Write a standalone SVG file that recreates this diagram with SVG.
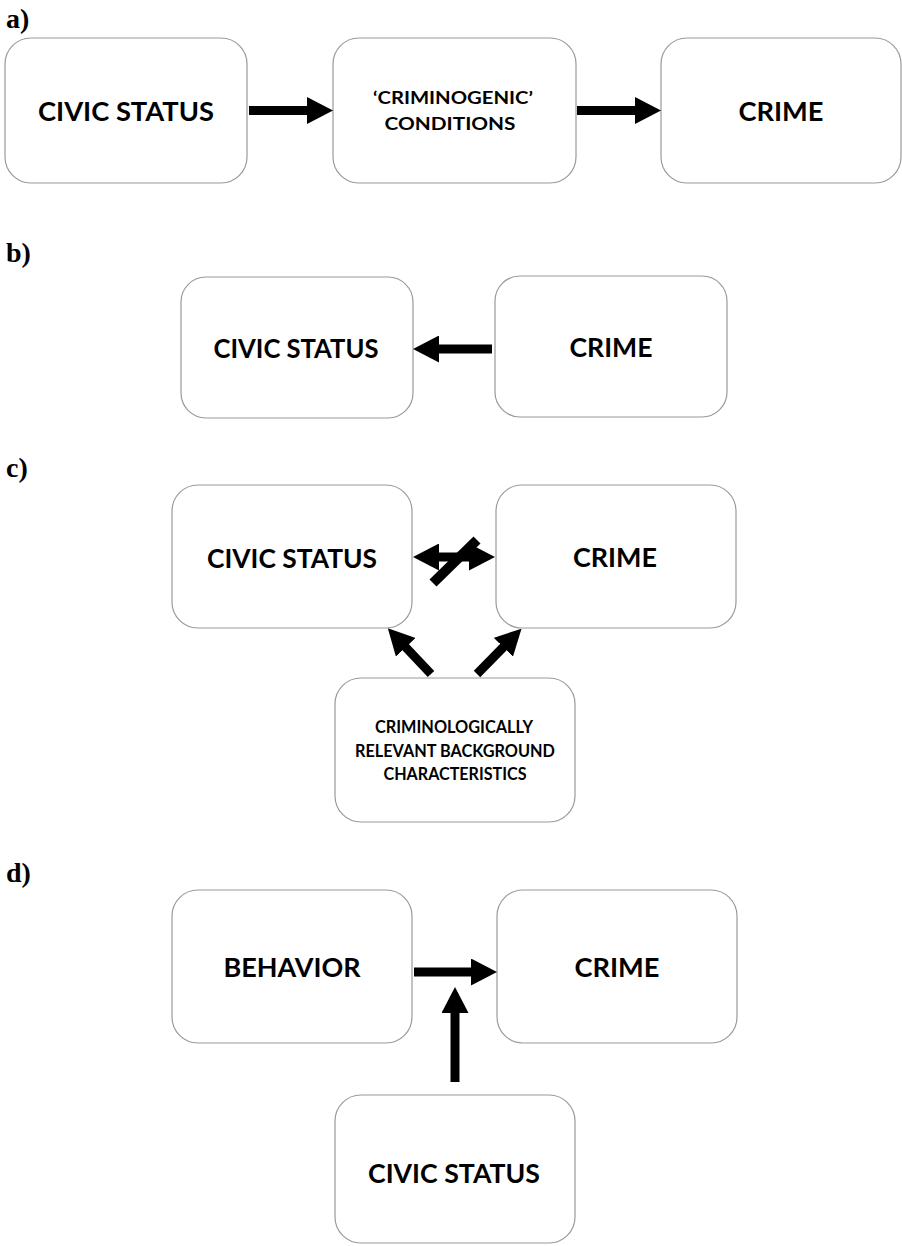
<svg xmlns="http://www.w3.org/2000/svg" width="902" height="1246" viewBox="0 0 902 1246">
  <style>
    .box { fill: #ffffff; stroke: #9a9a9a; stroke-width: 1.2; }
    .lbl { font-family: "Liberation Serif", "Times New Roman", serif; font-weight: bold; font-size: 28px; fill: #000; }
    .big { font-family: Lato, "Open Sans", sans-serif; font-weight: bold; font-size: 26.5px; fill: #000; text-anchor: middle; }
    .small { font-family: Lato, "Open Sans", sans-serif; font-weight: bold; font-size: 16.5px; fill: #000; text-anchor: middle; }
    .shaft { stroke: #000; stroke-width: 9; fill: none; }
    .slash { stroke: #000; stroke-width: 10; fill: none; }
  </style>
  <defs>
    <marker id="head" markerUnits="userSpaceOnUse" markerWidth="26" markerHeight="27" refX="1" refY="13.5" orient="auto-start-reverse" viewBox="0 0 26 27">
      <path d="M0,0 L26,13.5 L0,27 Z" fill="#000"/>
    </marker>
  </defs>
  <rect width="902" height="1246" fill="#ffffff"/>

  <g id="labels">
    <text class="lbl" x="6" y="28">a)</text>
    <text class="lbl" x="6" y="262">b)</text>
    <text class="lbl" x="6" y="477">c)</text>
    <text class="lbl" x="6" y="882">d)</text>
  </g>

  <!-- Panel a -->
  <g id="a-civic">
    <rect class="box" x="5" y="38" width="242" height="145" rx="26"/>
    <text class="big" x="126" y="121" textLength="176" lengthAdjust="spacingAndGlyphs">CIVIC STATUS</text>
  </g>
  <g id="a-conditions">
    <rect class="box" x="333" y="38" width="243" height="145" rx="26"/>
    <text class="small" x="453" y="104" textLength="160" lengthAdjust="spacingAndGlyphs">‘CRIMINOGENIC’</text>
    <text class="small" x="450" y="130" textLength="131" lengthAdjust="spacingAndGlyphs">CONDITIONS</text>
  </g>
  <g id="a-crime">
    <rect class="box" x="661" y="38" width="240" height="145" rx="26"/>
    <text class="big" x="781" y="121" textLength="85" lengthAdjust="spacingAndGlyphs">CRIME</text>
  </g>

  <!-- Panel b -->
  <g id="b-civic">
    <rect class="box" x="181" y="277" width="232" height="141" rx="25"/>
    <text class="big" x="296" y="358" textLength="165" lengthAdjust="spacingAndGlyphs">CIVIC STATUS</text>
  </g>
  <g id="b-crime">
    <rect class="box" x="495" y="276" width="232" height="141" rx="25"/>
    <text class="big" x="611" y="357" textLength="83" lengthAdjust="spacingAndGlyphs">CRIME</text>
  </g>

  <!-- Panel c -->
  <g id="c-civic">
    <rect class="box" x="172" y="485" width="240" height="143" rx="26"/>
    <text class="big" x="292" y="568" textLength="170" lengthAdjust="spacingAndGlyphs">CIVIC STATUS</text>
  </g>
  <g id="c-crime">
    <rect class="box" x="496" y="485" width="240" height="143" rx="26"/>
    <text class="big" x="615" y="567" textLength="84" lengthAdjust="spacingAndGlyphs">CRIME</text>
  </g>
  <g id="c-background">
    <rect class="box" x="335" y="678" width="240" height="144" rx="26"/>
    <text class="small" x="454" y="733" textLength="158" lengthAdjust="spacingAndGlyphs">CRIMINOLOGICALLY</text>
    <text class="small" x="455" y="757" textLength="200" lengthAdjust="spacingAndGlyphs">RELEVANT BACKGROUND</text>
    <text class="small" x="455" y="780" textLength="143" lengthAdjust="spacingAndGlyphs">CHARACTERISTICS</text>
  </g>

  <!-- Panel d -->
  <g id="d-behavior">
    <rect class="box" x="172" y="890" width="240" height="153" rx="26"/>
    <text class="big" x="292" y="977" textLength="137" lengthAdjust="spacingAndGlyphs">BEHAVIOR</text>
  </g>
  <g id="d-crime">
    <rect class="box" x="497" y="890" width="240" height="153" rx="26"/>
    <text class="big" x="617" y="977" textLength="85" lengthAdjust="spacingAndGlyphs">CRIME</text>
  </g>
  <g id="d-civic">
    <rect class="box" x="335" y="1095" width="240" height="148" rx="26"/>
    <text class="big" x="454" y="1183" textLength="172" lengthAdjust="spacingAndGlyphs">CIVIC STATUS</text>
  </g>

  <g id="connectors">
    <!-- a -->
    <line class="shaft" x1="249" y1="110.5" x2="308" y2="110.5" marker-end="url(#head)"/>
    <line class="shaft" x1="577" y1="110.5" x2="636" y2="110.5" marker-end="url(#head)"/>
    <!-- b -->
    <line class="shaft" x1="492" y1="349" x2="438" y2="349" marker-end="url(#head)"/>
    <!-- c -->
    <line class="shaft" x1="438" y1="557" x2="470" y2="557" stroke-width="10" marker-start="url(#head)" marker-end="url(#head)"/>
    <line class="slash" x1="433" y1="583" x2="477" y2="540"/>
    <line class="shaft" stroke-width="10" x1="431" y1="674" x2="405" y2="646.5" marker-end="url(#head)"/>
    <line class="shaft" stroke-width="10" x1="477" y1="674" x2="504" y2="646.5" marker-end="url(#head)"/>
    <!-- d -->
    <line class="shaft" x1="414" y1="972" x2="472" y2="972" marker-end="url(#head)"/>
    <line class="shaft" stroke-width="8" x1="455" y1="1082" x2="455" y2="1012" marker-end="url(#head)"/>
  </g>
</svg>
